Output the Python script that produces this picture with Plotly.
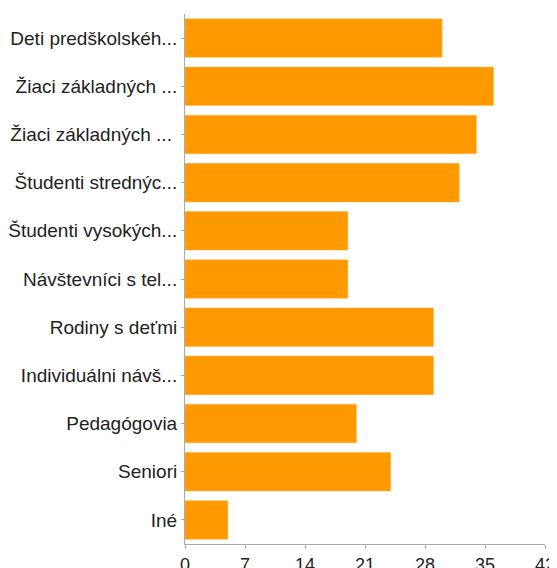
import plotly.graph_objects as go

categories = [
    "Deti predškolskéh...",
    "Žiaci základných ...",
    "Žiaci základných ... ",
    "Študenti strednýc...",
    "Študenti vysokých...",
    "Návštevníci s tel...",
    "Rodiny s deťmi",
    "Individuálni návš...",
    "Pedagógovia",
    "Seniori",
    "Iné",
]
values = [30, 36, 34, 32, 19, 19, 29, 29, 20, 24, 5]
x_ticks = [0, 7, 14, 21, 28, 35, 42]

fig = go.Figure(go.Bar(
    y=categories, x=values, orientation="h",
    marker=dict(color="#FF9900", line=dict(color="#FFB84D", width=0.5)),
))
# page body has an 8px margin, so the figure is sized to fit inside the window
fig.update_layout(
    width=549, height=560,
    margin=dict(l=177, r=12, t=6, b=24),
    plot_bgcolor="white", paper_bgcolor="white",
    bargap=0.2,
    font=dict(family="Liberation Sans, Arial", size=19, color="#222"),
    showlegend=False,
)
fig.update_xaxes(
    range=[0, 42], tickvals=x_ticks, showgrid=False, zeroline=False,
    showline=True, linecolor="#aaaaaa", linewidth=1,
    ticks="outside", ticklen=4, tickcolor="#aaaaaa",
    tickfont=dict(size=18), automargin=False,
)
fig.update_yaxes(
    autorange="reversed", showgrid=False, zeroline=False,
    showline=True, linecolor="#aaaaaa", linewidth=1,
    ticks="outside", ticklen=3, tickcolor="#aaaaaa",
    tickfont=dict(size=19), automargin=False,
)
fig.write_html("out.html")
